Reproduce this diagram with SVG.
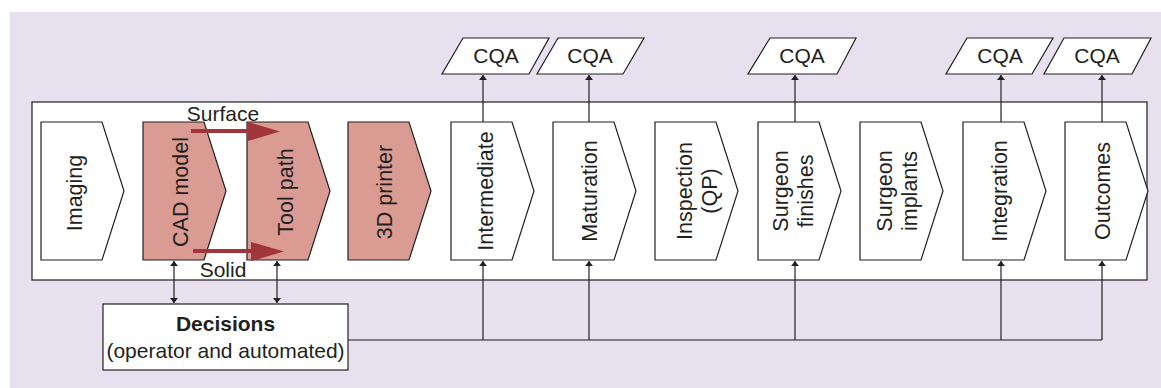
<svg xmlns="http://www.w3.org/2000/svg" width="1161" height="388" viewBox="0 0 1161 388">
<style>
text{font-family:"Liberation Sans",Arial,sans-serif;font-size:21px;fill:#231f20}
.v{font-size:21.5px}
.chev{fill:#fff;stroke:#231f20;stroke-width:1.2}
.red{fill:#d99b92}
.cqa{fill:#fff;stroke:#231f20;stroke-width:1.2}
.ln{fill:none;stroke:#231f20;stroke-width:1.2}
.ra{stroke:#a0353a;stroke-width:4;fill:none}
.rh{fill:#a0353a}
</style>
<defs>
<marker id="ah" viewBox="0 0 10 10" refX="10" refY="5" markerWidth="5" markerHeight="8" markerUnits="userSpaceOnUse" orient="auto-start-reverse" preserveAspectRatio="none">
<path d="M0,0 L10,5 L0,10 Z" fill="#231f20"/>
</marker>
</defs>
<rect x="10" y="12" width="1151" height="376" fill="#e6e0ef"/>
<rect id="frame" x="32" y="102" width="1115" height="178" fill="#fff" stroke="#231f20" stroke-width="1.2"/>

<g id="imaging"><path class="chev" d="M41,122H102L124,191L102,260H41Z"/><text class="v" transform="translate(82,193) rotate(-90)" text-anchor="middle">Imaging</text></g>
<g id="cad"><path class="chev red" d="M143,122H204L226,191L204,260H143Z"/><text class="v" transform="translate(188,192) rotate(-90)" text-anchor="middle">CAD model</text></g>
<g id="toolpath"><path class="chev red" d="M247,122H308L330,191L308,260H247Z"/><text class="v" transform="translate(293,192) rotate(-90)" text-anchor="middle">Tool path</text></g>
<g id="printer"><path class="chev red" d="M348,122H409L431,191L409,260H348Z"/><text class="v" transform="translate(392,192) rotate(-90)" text-anchor="middle">3D printer</text></g>
<g id="intermediate"><path class="chev" d="M451,122H512L534,191L512,260H451Z"/><text class="v" transform="translate(493,191) rotate(-90)" text-anchor="middle">Intermediate</text></g>
<g id="maturation"><path class="chev" d="M553,122H614L636,191L614,260H553Z"/><text class="v" transform="translate(597,191) rotate(-90)" text-anchor="middle">Maturation</text></g>
<g id="inspection"><path class="chev" d="M655,122H716L738,191L716,260H655Z"/><text class="v" transform="translate(692,191) rotate(-90)" text-anchor="middle">Inspection</text><text class="v" transform="translate(717,191) rotate(-90)" text-anchor="middle">(QP)</text></g>
<g id="finishes"><path class="chev" d="M758,122H819L841,191L819,260H758Z"/><text class="v" transform="translate(788,191) rotate(-90)" text-anchor="middle">Surgeon</text><text class="v" transform="translate(813,191) rotate(-90)" text-anchor="middle">finishes</text></g>
<g id="implants"><path class="chev" d="M860,122H921L943,191L921,260H860Z"/><text class="v" transform="translate(892,191) rotate(-90)" text-anchor="middle">Surgeon</text><text class="v" transform="translate(917,191) rotate(-90)" text-anchor="middle">implants</text></g>
<g id="integration"><path class="chev" d="M963,122H1024L1046,191L1024,260H963Z"/><text class="v" transform="translate(1007,191) rotate(-90)" text-anchor="middle">Integration</text></g>
<g id="outcomes"><path class="chev" d="M1065,122H1126L1148,191L1126,260H1065Z"/><text class="v" transform="translate(1110,191) rotate(-90)" text-anchor="middle">Outcomes</text></g>

<g id="cqa1"><path class="cqa" d="M463,38H549L529,74H442Z"/><text x="496" y="63" text-anchor="middle">CQA</text></g>
<g id="cqa2"><path class="cqa" d="M558,38H644L623,74H537Z"/><text x="590" y="63" text-anchor="middle">CQA</text></g>
<g id="cqa3"><path class="cqa" d="M770,38H856L837,74H748Z"/><text x="802" y="63" text-anchor="middle">CQA</text></g>
<g id="cqa4"><path class="cqa" d="M967,38H1053L1032,74H946Z"/><text x="1000" y="63" text-anchor="middle">CQA</text></g>
<g id="cqa5"><path class="cqa" d="M1064,38H1151L1132,74H1044Z"/><text x="1097" y="63" text-anchor="middle">CQA</text></g>

<g id="decisions"><rect x="103" y="304" width="245" height="66" fill="#fff" stroke="#231f20" stroke-width="1.2"/><text x="225.5" y="331" text-anchor="middle" font-weight="bold">Decisions</text><text x="225.5" y="358" text-anchor="middle">(operator and automated)</text></g>

<g id="connectors">
<path class="ra" d="M191,131H249"/><path class="rh" d="M248,122L280,131.5L248,141Z"/>
<path class="ra" d="M193,251H252"/><path class="rh" d="M251,242L284,251.5L251,261Z"/>
<text x="223" y="121" text-anchor="middle">Surface</text>
<text x="223" y="277" text-anchor="middle">Solid</text>
<line class="ln" x1="174" y1="261" x2="174" y2="303" marker-start="url(#ah)" marker-end="url(#ah)"/>
<line class="ln" x1="277" y1="261" x2="277" y2="303" marker-start="url(#ah)" marker-end="url(#ah)"/>
<path class="ln" d="M348,340H1102"/>
<line class="ln" x1="483" y1="340" x2="483" y2="261" marker-end="url(#ah)"/>
<line class="ln" x1="589" y1="340" x2="589" y2="261" marker-end="url(#ah)"/>
<line class="ln" x1="795" y1="340" x2="795" y2="261" marker-end="url(#ah)"/>
<line class="ln" x1="1001" y1="340" x2="1001" y2="261" marker-end="url(#ah)"/>
<line class="ln" x1="1102" y1="340" x2="1102" y2="261" marker-end="url(#ah)"/>
<line class="ln" x1="483" y1="122" x2="483" y2="75" marker-end="url(#ah)"/>
<line class="ln" x1="589" y1="122" x2="589" y2="75" marker-end="url(#ah)"/>
<line class="ln" x1="795" y1="122" x2="795" y2="75" marker-end="url(#ah)"/>
<line class="ln" x1="1001" y1="122" x2="1001" y2="75" marker-end="url(#ah)"/>
<line class="ln" x1="1102" y1="122" x2="1102" y2="75" marker-end="url(#ah)"/>
</g>
</svg>
